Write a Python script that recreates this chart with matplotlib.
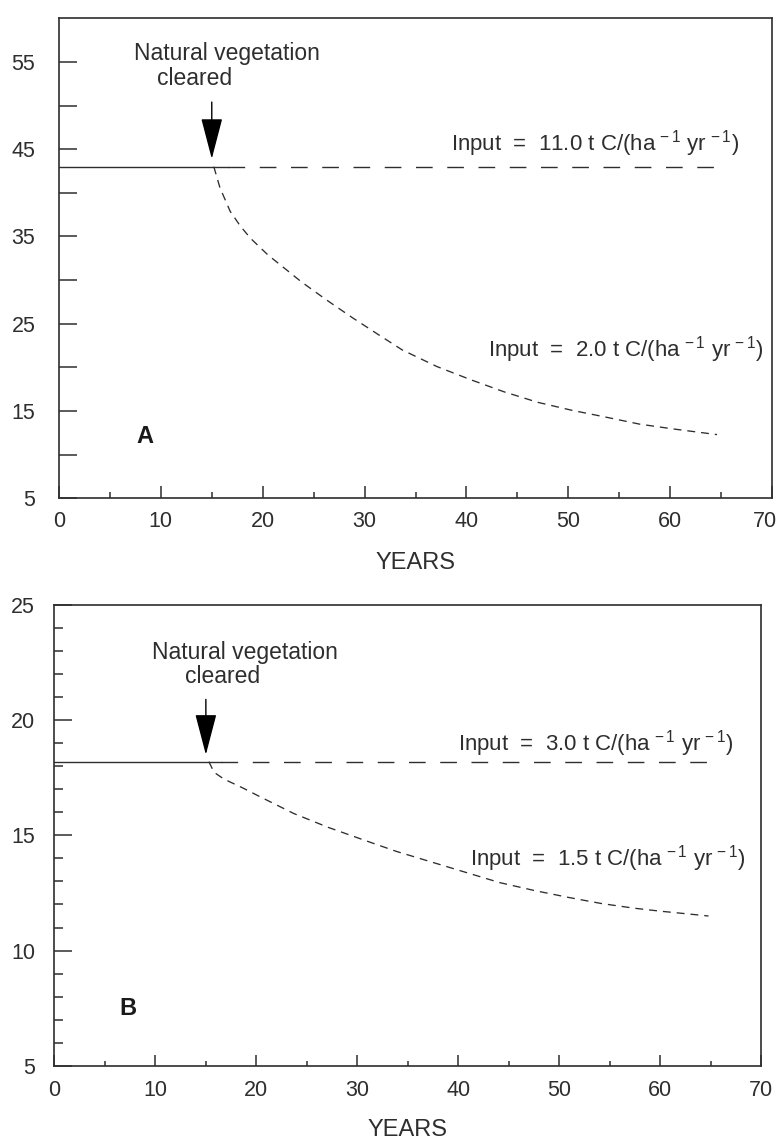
import matplotlib
matplotlib.use('Agg')
import matplotlib.pyplot as plt
from matplotlib.ticker import FixedLocator, FuncFormatter, MultipleLocator

plt.rcParams['font.family'] = ['Liberation Sans', 'DejaVu Sans']
plt.rcParams['mathtext.fontset'] = 'custom'
plt.rcParams['mathtext.rm'] = 'Liberation Sans'
plt.rcParams['mathtext.it'] = 'Liberation Sans:italic'
plt.rcParams['mathtext.bf'] = 'Liberation Sans:bold'

INK = '#2e2e2e'

# panel A: soil carbon before and after clearing (high input site)
cleared_year = 15
end_year = 65
steady_a = 43.0
decline_years_a = [15.2, 15.8, 16.8, 17.8, 18.8, 20.5, 22.1, 23.8, 26.3, 28.8,
                   31.3, 33.7, 37.1, 40.4, 43.7, 47.0, 50.3, 53.7, 57.0, 60.3,
                   64.6]
decline_carbon_a = [43.0, 40.6, 37.9, 36.2, 34.8, 32.9, 31.4, 29.8, 27.7, 25.7,
                    23.8, 22.0, 20.1, 18.6, 17.2, 16.0, 15.1, 14.3, 13.5, 12.95,
                    12.3]
input_labels_a = ['11.0', '2.0']

# panel B: lower input site
steady_b = 18.2
decline_years_b = [15.3, 15.8, 16.8, 18.6, 20.3, 23.7, 27.1, 30.5, 33.9, 37.3,
                   40.7, 44.1, 47.6, 51.0, 54.2, 57.4, 60.0, 64.8]
decline_carbon_b = [18.2, 17.74, 17.44, 17.07, 16.69, 15.95, 15.35, 14.82, 14.3,
                    13.85, 13.4, 12.95, 12.6, 12.3, 12.04, 11.84, 11.71, 11.5]
input_labels_b = ['3.0', '1.5']


def input_text(rate):
    return 'Input  =  ' + rate + r' t C/(ha$^{\,-1}$ yr$^{\,-1}$)'


def draw_panel(ax, steady, years, carbon, rates, cfg):
    # solid line up to clearing, long dashes for the unchanged input afterwards
    ax.plot([0, cfg['solid_end']], [steady, steady], color=INK, lw=1.0)
    ax.plot([cfg['solid_end'], end_year], [steady, steady], color=INK, lw=1.0,
            dashes=(12, 10.5))
    ax.plot(years, carbon, color=INK, lw=0.95, dashes=(6, 4.5))

    ax.annotate('', xy=(cleared_year, cfg['arrow_tip']),
                xytext=(cleared_year, cfg['arrow_top']),
                arrowprops=dict(arrowstyle='-|>,head_length=2.6,head_width=0.68',
                                mutation_scale=10, color='black', lw=1.0,
                                shrinkA=0, shrinkB=0))
    ax.text(cfg['nat_x'], cfg['nat_y'], 'Natural vegetation', color=INK,
            fontsize=16.5, ha='center', va='center')
    ax.text(cfg['clr_x'], cfg['clr_y'], 'cleared', color=INK,
            fontsize=16.5, ha='center', va='center')

    ax.text(cfg['hi_xy'][0], cfg['hi_xy'][1], input_text(rates[0]), color=INK,
            fontsize=16, ha='left', va='center')
    ax.text(cfg['lo_xy'][0], cfg['lo_xy'][1], input_text(rates[1]), color=INK,
            fontsize=16, ha='left', va='center')
    ax.text(cfg['letter_xy'][0], cfg['letter_xy'][1], cfg['letter'],
            color='#1a1a1a', fontsize=17, fontweight='bold',
            ha='center', va='center')

    ax.set_xlim(0, 70)
    ax.set_ylim(*cfg['ylim'])
    ax.xaxis.set_major_locator(MultipleLocator(10))
    ax.xaxis.set_minor_locator(MultipleLocator(5))
    ax.yaxis.set_major_locator(FixedLocator(cfg['yticks']))
    ax.yaxis.set_minor_locator(FixedLocator(cfg['yminor']))

    for side in ['top', 'right', 'bottom', 'left']:
        ax.spines[side].set_linewidth(1.2)
        ax.spines[side].set_color(INK)
    ax.tick_params(axis='both', which='both', direction='in', color=INK,
                   width=1.1, top=False, right=False, labelcolor=INK,
                   labelsize=15.5)
    ax.tick_params(axis='x', which='major', length=cfg['xmaj'], pad=cfg['xpad'])
    ax.tick_params(axis='x', which='minor', length=cfg['xmin'])
    ax.tick_params(axis='y', which='major', length=13, pad=cfg['ypad'])
    ax.tick_params(axis='y', which='minor', length=cfg['ymin'])

    ax.set_xlabel('YEARS', fontsize=17, color=INK, va='top')
    ax.xaxis.set_label_coords(0.5, cfg['xlabel_y'])


fig = plt.figure(figsize=(7.77, 11.44), dpi=100, facecolor='white')
ax_a = fig.add_axes([0.0759, 0.5644, 0.9177, 0.4196])
ax_b = fig.add_axes([0.0701, 0.0684, 0.9093, 0.4028])

draw_panel(ax_a, steady_a, decline_years_a, decline_carbon_a, input_labels_a, dict(
    solid_end=16.6, arrow_tip=43.9, arrow_top=50.4,
    nat_x=16.5, nat_y=56.0, clr_x=13.3, clr_y=53.1,
    hi_xy=(38.5, 45.7), lo_xy=(42.1, 22.0),
    letter='A', letter_xy=(8.4, 12.1),
    ylim=(5, 60), yticks=[5, 15, 25, 35, 45, 55], yminor=[10, 20, 30, 40, 50],
    ymin=13, xmaj=8.6, xmin=4.3, xpad=9, ypad=17, xlabel_y=-0.112,
))

draw_panel(ax_b, steady_b, decline_years_b, decline_carbon_b, input_labels_b, dict(
    solid_end=16.5, arrow_tip=18.5, arrow_top=20.9,
    nat_x=18.9, nat_y=22.95, clr_x=16.7, clr_y=21.9,
    hi_xy=(40.0, 19.0), lo_xy=(41.2, 14.0),
    letter='B', letter_xy=(7.3, 7.5),
    ylim=(5, 25), yticks=[5, 10, 15, 20, 25],
    yminor=[v for v in range(6, 25) if v % 5],
    ymin=6.5, xmaj=7.7, xmin=3.6, xpad=10, ypad=14, xlabel_y=-0.116,
))

# the "70" of the upper panel sits right at the page edge: draw it a bit inward
ax_a.xaxis.set_major_formatter(FuncFormatter(lambda v, pos: '' if v >= 70 else '%d' % v))
ax_a.annotate('70', xy=(70, 0), xycoords=('data', 'axes fraction'),
              xytext=(-5, -9), textcoords='offset points',
              ha='center', va='top', fontsize=15.5, color=INK)

fig.savefig('out.png', dpi=100, facecolor='white')
